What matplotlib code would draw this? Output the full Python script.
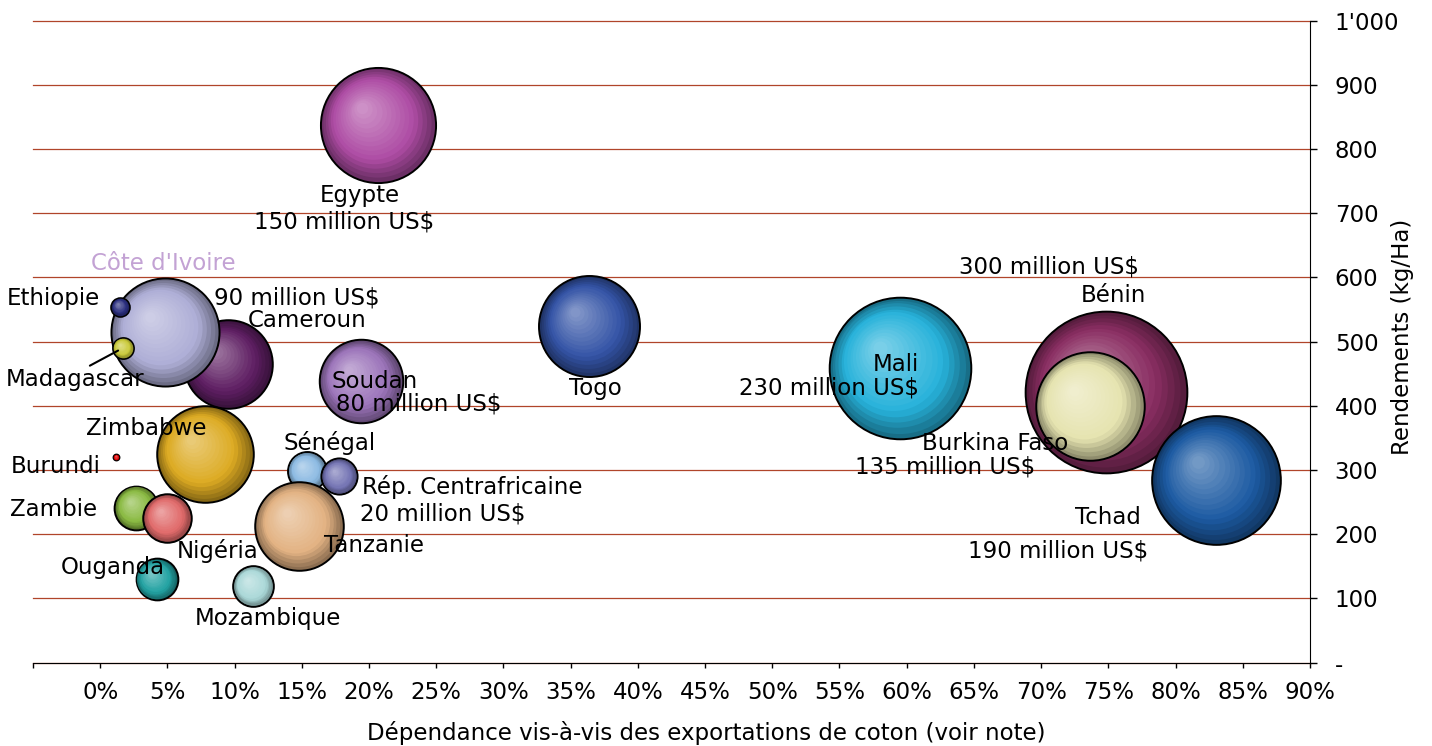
import matplotlib.pyplot as plt
import numpy as np
from matplotlib.colors import to_rgb
from matplotlib.transforms import ScaledTranslation

# Données
pays = ["Bénin", "Burkina Faso", "Tchad", "Mali", "Egypte", "Togo", "Cameroun",
        "Côte d'Ivoire", "Ethiopie", "Madagascar", "Soudan", "Zimbabwe", "Sénégal",
        "Rép. Centrafricaine", "Tanzanie", "Zambie", "Nigéria", "Ouganda",
        "Mozambique", "Burundi"]
dependance = [74.8, 73.6, 83.0, 59.5, 20.7, 36.4, 9.5,
              4.8, 1.5, 1.7, 19.4, 7.8, 15.4,
              17.8, 14.8, 2.7, 5.0, 4.2,
              11.4, 1.2]
rendement = [421, 400, 284, 459, 838, 524, 465,
             515, 554, 490, 438, 325, 298,
             290, 213, 241, 225, 130,
             119, 320]
valeur = [300, 135, 190, 230, 152, 117, 90,
          134, 4, 5, 80, 107, 17.4,
          15, 90, 22, 27, 20,
          19, 0.4]
couleurs = ["#8A2E62", "#E6E4B0", "#1C5AA2", "#27B2DA", "#AE4CA4", "#3454A6", "#5E1E62",
            "#AEAED6", "#2A2E7E", "#CACA3A", "#9C74BA", "#DCAA22", "#8CBAE2",
            "#7474B4", "#E2B282", "#8ABA42", "#E06A6A", "#22A2A2",
            "#AAD8D8", "#E00000"]

# étiquettes : (texte, pays, décalage x, décalage y en pixels, couleur)
etiquettes = [
    ("Egypte", "Egypte", -19, 71, "black"),
    ("150 million US$", "Egypte", -34, 97, "black"),
    ("Côte d'Ivoire", "Côte d'Ivoire", -1, -68, "#C3A2D4"),
    ("Ethiopie", "Ethiopie", -67, -8, "black"),
    ("90 million US$", "Cameroun", 69, -66, "black"),
    ("Cameroun", "Cameroun", 79, -43, "black"),
    ("Soudan", "Soudan", 14, 0, "black"),
    ("80 million US$", "Soudan", 58, 23, "black"),
    ("Togo", "Togo", 6, 62, "black"),
    ("Zimbabwe", "Zimbabwe", -59, -25, "black"),
    ("Burundi", "Burundi", -61, 9, "black"),
    ("Sénégal", "Sénégal", 22, -28, "black"),
    ("Rép. Centrafricaine", "Rép. Centrafricaine", 133, 11, "black"),
    ("20 million US$", "Rép. Centrafricaine", 103, 38, "black"),
    ("Zambie", "Zambie", -83, 2, "black"),
    ("Tanzanie", "Tanzanie", 75, 20, "black"),
    ("Nigéria", "Nigéria", 50, 33, "black"),
    ("Ouganda", "Ouganda", -44, -12, "black"),
    ("Mozambique", "Mozambique", 15, 32, "black"),
    ("Mali", "Mali", -4, -3, "black"),
    ("230 million US$", "Mali", -71, 20, "black"),
    ("300 million US$", "Bénin", -57, -125, "black"),
    ("Bénin", "Bénin", 8, -97, "black"),
    ("Burkina Faso", "Burkina Faso", -94, 38, "black"),
    ("135 million US$", "Burkina Faso", -144, 61, "black"),
    ("Tchad", "Tchad", -108, 37, "black"),
    ("190 million US$", "Tchad", -158, 71, "black"),
]

xticks = np.arange(-5, 91, 5)
xlabels = [""] + [f"{v}%" for v in xticks[1:]]
yticks = np.arange(0, 1001, 100)
ylabels = ["-"] + [str(v) for v in yticks[1:-1]] + ["1'000"]

plt.rcParams['font.size'] = 16.5

fig = plt.figure(figsize=(14.32, 7.46), dpi=100)
ax = fig.add_axes([0.0230, 0.1119, 0.8918, 0.8606])


def melange(c1, c2, t):
    return tuple((1 - t) * a + t * b for a, b in zip(c1, c2))


# bulles avec dégradé (effet 3D)
n_couches = 16
for x, y, v, c in zip(dependance, rendement, valeur, couleurs):
    base = np.array(to_rgb(c))
    fonce = tuple(base * 0.62)
    clair = tuple(base + (1 - base) * 0.38)
    base = tuple(base)
    r_px = np.sqrt(21.8 * v)
    for j in range(n_couches):
        t = j / (n_couches - 1)
        if t < 0.3:
            col = melange(fonce, base, t / 0.3)
        else:
            col = melange(base, clair, (t - 0.3) / 0.7)
        rj = r_px * (1 - 0.9 * t)
        dx = -0.28 * r_px * t / 100
        dy = 0.28 * r_px * t / 100
        tr = ax.transData + ScaledTranslation(dx, dy, fig.dpi_scale_trans)
        taille = (2 * rj * 0.72) ** 2
        if j == 0:
            ax.scatter([x], [y], s=taille, color=col, edgecolor="black",
                       linewidth=1.4, transform=tr, zorder=3)
        else:
            ax.scatter([x], [y], s=taille, color=col, linewidth=0,
                       transform=tr, zorder=3)

for texte, p, dx, dy, col in etiquettes:
    i = pays.index(p)
    ax.annotate(texte, (dependance[i], rendement[i]), xytext=(dx, -dy),
                textcoords="offset pixels", ha="center", va="center",
                color=col, zorder=5)

# Madagascar avec trait
i = pays.index("Madagascar")
ax.annotate("Madagascar", (dependance[i], rendement[i]), xytext=(-48, -32),
            textcoords="offset pixels", ha="center", va="center",
            arrowprops=dict(arrowstyle="-", color="black", lw=1.5,
                            relpos=(0.57, 1.0), shrinkA=0, shrinkB=4),
            zorder=5)

ax.set_xlim(-5, 90)
ax.set_ylim(0, 1000)
ax.set_xticks(xticks)
ax.set_xticklabels(xlabels)
ax.set_yticks(yticks)
ax.set_yticklabels(ylabels)
ax.yaxis.tick_right()
ax.yaxis.set_label_position("right")
ax.tick_params(axis="x", length=3.4, width=1, pad=10)
ax.tick_params(axis="y", length=4.8, width=1, pad=13)

ax.grid(axis="y", color="#B0452A", linewidth=0.9)
for ligne in ax.get_ygridlines():
    ligne.set_clip_on(False)
ax.set_axisbelow(True)
ax.spines["top"].set_visible(False)
ax.spines["left"].set_visible(False)

ax.set_xlabel("Dépendance vis-à-vis des exportations de coton (voir note)")
ax.xaxis.set_label_coords(0.527, -0.11)
ax.xaxis.label.set_va("center")
ax.set_ylabel("Rendements (kg/Ha)")
ax.yaxis.set_label_coords(1.0728, 0.507)
ax.yaxis.label.set_va("center")

plt.savefig("out.png", dpi=100)
